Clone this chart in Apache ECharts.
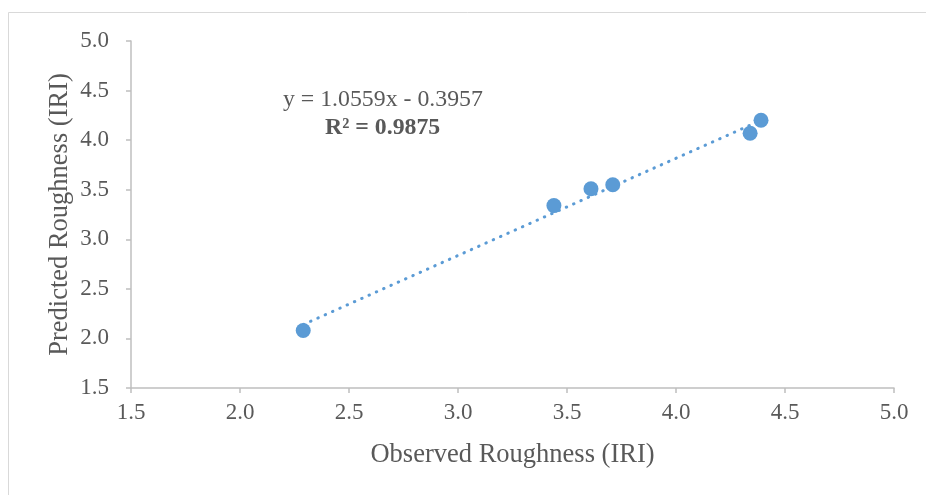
<!DOCTYPE html>
<html>
<head>
<meta charset="utf-8">
<script src="https://cdn.jsdelivr.net/npm/echarts@6/dist/echarts.min.js"></script>
<style>
  html, body { margin: 0; padding: 0; background: #fff; }
  #main { width: 926px; height: 495px; }
</style>
</head>
<body>
<div id="main"></div>
<script>
// observed vs predicted roughness (IRI)
var observed = [2.29, 3.44, 3.61, 3.71, 4.34, 4.39];
var predicted = [2.08, 3.34, 3.51, 3.55, 4.07, 4.20];
// linear trendline end points as drawn
var trendX = [2.29, 4.39];
var trendY = [2.14, 4.20];
var equationText = 'y = 1.0559x - 0.3957';
var r2Text = 'R² = 0.9875';

var fontFamily = '"Liberation Serif", "Times New Roman", serif';
var blue = '#5B9BD5';

var chart = echarts.init(document.getElementById('main'));
var option = {
    backgroundColor: '#fff',
    animation: false,
    textStyle: { fontFamily: fontFamily },
    grid: { left: 131, right: 32, top: 41, bottom: 107 },
    graphic: [
        {
            type: 'rect',
            shape: { x: 8.5, y: 12.5, width: 1000, height: 1000 },
            style: { fill: 'none', stroke: '#d9d9d9', lineWidth: 1 },
            silent: true
        },
        {
            type: 'text',
            left: 283, top: 88,
            style: { text: equationText, fill: '#595959', font: '23.8px ' + fontFamily }
        },
        {
            type: 'text',
            left: 325, top: 116,
            style: { text: r2Text, fill: '#595959', font: 'bold 23.8px ' + fontFamily }
        }
    ],
    xAxis: {
        type: 'value',
        min: 1.5, max: 5.0, interval: 0.5,
        name: 'Observed Roughness (IRI)',
        nameLocation: 'middle',
        nameGap: 54,
        nameTextStyle: { fontSize: 26.5, color: '#595959', fontFamily: fontFamily },
        axisLine: { show: true, lineStyle: { color: '#bfbfbf', width: 1.5 } },
        axisTick: { show: true, length: 5, lineStyle: { color: '#bfbfbf', width: 1.5 } },
        axisLabel: { fontSize: 23, color: '#595959', margin: 13,
            formatter: function (v) { return v.toFixed(1); } },
        splitLine: { show: false }
    },
    yAxis: {
        type: 'value',
        min: 1.5, max: 5.0, interval: 0.5,
        name: 'Predicted Roughness (IRI)',
        nameLocation: 'middle',
        nameGap: 57,
        nameMoveOverlap: false,
        nameTextStyle: { fontSize: 26.5, color: '#595959', fontFamily: fontFamily },
        axisLine: { show: true, lineStyle: { color: '#bfbfbf', width: 1.5 } },
        axisTick: { show: true, length: 5, lineStyle: { color: '#bfbfbf', width: 1.5 } },
        axisLabel: { fontSize: 23, color: '#595959', margin: 22,
            formatter: function (v) { return v.toFixed(1); } },
        splitLine: { show: false }
    },
    series: [
        {
            name: 'Trendline',
            type: 'line',
            data: trendX.map(function (x, i) { return [x, trendY[i]]; }),
            symbol: 'none',
            lineStyle: { color: blue, width: 3, type: [0.5, 7.5], cap: 'round' },
            z: 2
        },
        {
            name: 'Predicted',
            type: 'scatter',
            data: observed.map(function (x, i) { return [x, predicted[i]]; }),
            symbol: 'circle',
            symbolSize: 15,
            itemStyle: { color: blue, opacity: 1 },
            z: 3
        }
    ]
};
chart.setOption(option);
</script>
</body>
</html>
